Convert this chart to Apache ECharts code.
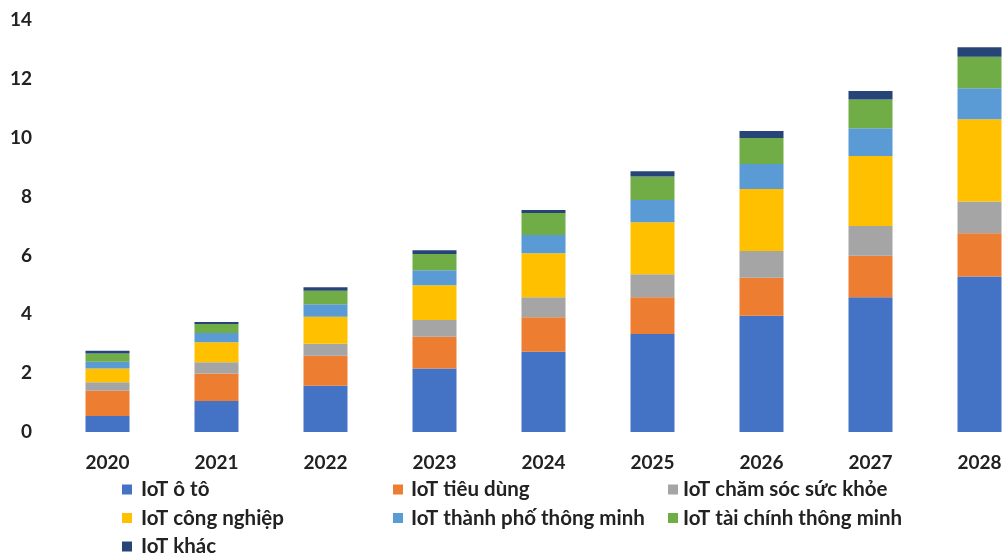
<!DOCTYPE html>
<html><head><meta charset="utf-8">
<script src="https://cdn.jsdelivr.net/npm/echarts@6/dist/echarts.min.js"></script>
<style>html,body{margin:0;padding:0;background:#fff}#c{width:1006px;height:557px}</style>
</head><body><div id="c"></div>
<script>
const years = ['2020','2021','2022','2023','2024','2025','2026','2027','2028'];
const seriesNames = ['IoT ô tô','IoT tiêu dùng','IoT chăm sóc sức khỏe','IoT công nghiệp','IoT thành phố thông minh','IoT tài chính thông minh','IoT khác'];
const colors = ['#4472C4','#ED7D31','#A5A5A5','#FFC000','#5B9BD5','#70AD47','#264478'];
const oto      = [0.54, 1.05, 1.57, 2.16, 2.73, 3.33, 3.95, 4.58, 5.28];
const tieudung = [0.86, 0.94, 1.02, 1.08, 1.17, 1.25, 1.29, 1.41, 1.47];
const suckhoe  = [0.29, 0.38, 0.41, 0.57, 0.68, 0.78, 0.91, 1.01, 1.08];
const congnghiep = [0.47, 0.68, 0.92, 1.18, 1.49, 1.77, 2.11, 2.38, 2.80];
const thanhpho = [0.23, 0.31, 0.42, 0.51, 0.62, 0.75, 0.85, 0.94, 1.05];
const taichinh = [0.28, 0.31, 0.46, 0.55, 0.75, 0.80, 0.88, 0.98, 1.07];
const khac     = [0.09, 0.07, 0.12, 0.13, 0.10, 0.18, 0.24, 0.29, 0.32];
const values = [oto, tieudung, suckhoe, congnghiep, thanhpho, taichinh, khac];
const yTicks = [0, 2, 4, 6, 8, 10, 12, 14];

const font = 'Lato, "Open Sans", sans-serif';
function legend(left, names, pad) {
  return {orient: 'vertical', left: left, top: 479, itemWidth: 10, itemHeight: 10, itemGap: 7.5,
    icon: 'rect', padding: 0, data: names,
    textStyle: {fontFamily: font, fontWeight: 'bold', fontSize: 20.5, color: '#222', padding: [0, 0, 0, pad]}};
}
const chart = echarts.init(document.getElementById('c'));
chart.setOption({
  animation: false,
  color: colors,
  grid: {left: 53, width: 981, top: 20, bottom: 125, outerBoundsMode: 'none', containLabel: false},
  legend: [
    legend(122, [seriesNames[0], seriesNames[3], seriesNames[6]], 4),
    legend(393, [seriesNames[1], seriesNames[4]], 3),
    legend(668, [seriesNames[2], seriesNames[5]], 0)
  ],
  xAxis: {type: 'category', data: years,
    axisLine: {show: false}, axisTick: {show: false},
    axisLabel: {fontFamily: font, fontWeight: 'bold', fontSize: 19, color: '#222', margin: 21}},
  yAxis: {type: 'value', min: yTicks[0], max: yTicks[yTicks.length-1], interval: 2,
    splitLine: {show: false}, axisLine: {show: false}, axisTick: {show: false},
    axisLabel: {fontFamily: font, fontWeight: 'bold', fontSize: 19, color: '#222', margin: 21}},
  series: seriesNames.map((n, i) => ({
    name: n, type: 'bar', stack: 'total', barWidth: 44, data: values[i],
    itemStyle: {color: colors[i]}
  }))
});
</script></body></html>
